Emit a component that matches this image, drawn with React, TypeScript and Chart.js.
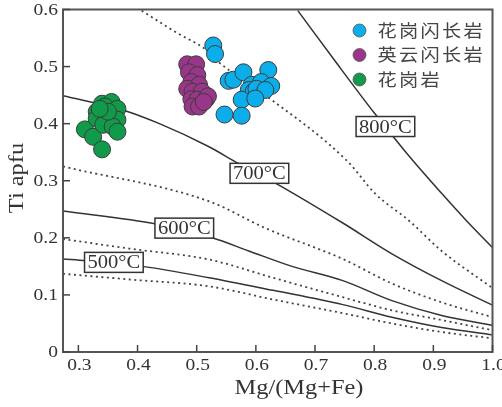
import React, { useEffect, useRef } from "react";
import { Chart, registerables } from "chart.js";

Chart.register(...registerables);

// ---- axis ticks ----
const xTicks = [0.3, 0.4, 0.5, 0.6, 0.7, 0.8, 0.9, 1.0];
const yTicks = [0, 0.1, 0.2, 0.3, 0.4, 0.5, 0.6];
const xTickLabels = ["0.3", "0.4", "0.5", "0.6", "0.7", "0.8", "0.9", "1.0"];
const yTickLabels = ["0", "0.1", "0.2", "0.3", "0.4", "0.5", "0.6"];

// ---- scatter series ----
const seriesNames = ["花岗闪长岩", "英云闪长岩", "花岗岩"];
const seriesColors = ["#0BAEEA", "#9A3689", "#109A4A"];

const granodioriteX = [0.528, 0.531, 0.554, 0.562, 0.579, 0.621, 0.593, 0.609, 0.626, 0.588, 0.596, 0.601, 0.616, 0.576, 0.599, 0.547, 0.576];
const granodioriteY = [0.537, 0.522, 0.475, 0.477, 0.490, 0.494, 0.468, 0.473, 0.466, 0.459, 0.456, 0.461, 0.459, 0.442, 0.444, 0.416, 0.414];

const tonaliteX = [0.484, 0.499, 0.487, 0.501, 0.491, 0.504, 0.484, 0.493, 0.509, 0.491, 0.501, 0.516, 0.493, 0.504, 0.519, 0.512];
const tonaliteY = [0.504, 0.504, 0.490, 0.485, 0.473, 0.468, 0.461, 0.456, 0.456, 0.443, 0.442, 0.443, 0.430, 0.430, 0.448, 0.438];

const graniteX = [0.311, 0.325, 0.340, 0.331, 0.340, 0.356, 0.345, 0.366, 0.331, 0.348, 0.366, 0.342, 0.358, 0.366, 0.350, 0.336];
const graniteY = [0.390, 0.377, 0.355, 0.421, 0.435, 0.438, 0.430, 0.426, 0.409, 0.409, 0.407, 0.398, 0.395, 0.386, 0.421, 0.426];

// ---- isotherms (solid) ----
const iso800X = [0.671, 0.738, 0.800, 0.856, 0.914, 0.956, 1.0];
const iso800Y = [0.598, 0.504, 0.419, 0.347, 0.278, 0.230, 0.183];

const iso700X = [0.274, 0.375, 0.437, 0.520, 0.571, 0.633, 0.747, 0.830, 0.914, 1.0];
const iso700Y = [0.449, 0.424, 0.400, 0.360, 0.330, 0.296, 0.226, 0.172, 0.125, 0.082];

const iso600X = [0.274, 0.432, 0.526, 0.588, 0.661, 0.747, 0.830, 0.914, 1.0];
const iso600Y = [0.247, 0.224, 0.200, 0.177, 0.150, 0.125, 0.090, 0.064, 0.047];

const iso500X = [0.274, 0.313, 0.408, 0.521, 0.629, 0.747, 0.830, 0.914, 1.0];
const iso500Y = [0.163, 0.160, 0.150, 0.130, 0.108, 0.083, 0.061, 0.043, 0.030];

// ---- dotted curves ----
const dot1X = [0.407, 0.465, 0.515, 0.537, 0.616, 0.755, 0.802, 0.859, 0.914, 1.0];
const dot1Y = [0.598, 0.560, 0.530, 0.508, 0.450, 0.334, 0.277, 0.230, 0.177, 0.112];

const dot2X = [0.274, 0.521, 0.616, 0.747, 0.830, 0.914, 1.0];
const dot2Y = [0.325, 0.264, 0.217, 0.163, 0.120, 0.087, 0.061];

const dot3X = [0.274, 0.387, 0.521, 0.629, 0.747, 0.830, 0.914, 1.0];
const dot3Y = [0.198, 0.181, 0.162, 0.130, 0.096, 0.073, 0.056, 0.038];

const dot4X = [0.274, 0.387, 0.521, 0.629, 0.747, 0.830, 0.914, 1.0];
const dot4Y = [0.137, 0.127, 0.115, 0.092, 0.068, 0.050, 0.035, 0.024];

// ---- temperature labels ----
const tempLabels = ["800°C", "700°C", "600°C", "500°C"];
const tempLabelX = [0.819, 0.606, 0.479, 0.360];
const tempLabelY = [0.395, 0.313, 0.217, 0.157];

const xTitle = "Mg/(Mg+Fe)";
const yTitle = "Ti apfu";

const SERIF = "'Liberation Serif', 'Times New Roman', serif";
const CJK = "'Noto Sans CJK SC', sans-serif";
const INK = "#333333";

const zip = (xs: number[], ys: number[]) => xs.map((x, i) => ({ x, y: ys[i] }));

function stretchText(ctx: CanvasRenderingContext2D, text: string, x: number, y: number, sx: number, align: CanvasTextAlign) {
  ctx.save();
  ctx.translate(x, y);
  ctx.scale(sx, 1);
  ctx.textAlign = align;
  ctx.fillText(text, 0, 0);
  ctx.restore();
}

const decorPlugin = {
  id: "decor",
  afterDatasetsDraw(chart: any) {
    const { ctx, scales } = chart;
    const xs = scales.x;
    const ys = scales.y;
    ctx.save();
    ctx.font = `19px ${SERIF}`;
    ctx.textBaseline = "middle";
    const sx = 1.08;
    tempLabels.forEach((t, i) => {
      const cx = xs.getPixelForValue(tempLabelX[i]);
      const cy = ys.getPixelForValue(tempLabelY[i]);
      const w = ctx.measureText(t).width * sx + 6;
      const h = 20;
      ctx.fillStyle = "#ffffff";
      ctx.fillRect(cx - w / 2, cy - h / 2, w, h);
      ctx.strokeStyle = "#333";
      ctx.lineWidth = 1.5;
      ctx.strokeRect(cx - w / 2, cy - h / 2, w, h);
      ctx.fillStyle = INK;
      stretchText(ctx, t, cx, cy + 1, sx, "center");
    });
    ctx.restore();
  },
  afterDraw(chart: any) {
    const { ctx, chartArea, scales } = chart;
    const { left, right, top, bottom } = chartArea;
    const xs = scales.x;
    const ys = scales.y;
    ctx.save();
    // frame
    ctx.strokeStyle = "#555";
    ctx.lineWidth = 2;
    ctx.strokeRect(left, top, right - left, bottom - top);
    // inside tick marks
    ctx.lineWidth = 1.5;
    ctx.strokeStyle = "#444";
    xTicks.forEach((v) => {
      const px = xs.getPixelForValue(v);
      ctx.beginPath();
      ctx.moveTo(px, bottom);
      ctx.lineTo(px, bottom - 7);
      ctx.stroke();
    });
    yTicks.forEach((v) => {
      const py = ys.getPixelForValue(v);
      ctx.beginPath();
      ctx.moveTo(left, py);
      ctx.lineTo(left + 7, py);
      ctx.stroke();
    });
    // tick labels
    ctx.fillStyle = INK;
    ctx.font = `16px ${SERIF}`;
    ctx.textBaseline = "middle";
    xTicks.forEach((v, i) => {
      stretchText(ctx, xTickLabels[i], xs.getPixelForValue(v) + 1, bottom + 14, 1.22, "center");
    });
    yTicks.forEach((v, i) => {
      stretchText(ctx, yTickLabels[i], left - 5, ys.getPixelForValue(v) + 1, 1.22, "right");
    });
    // axis titles
    ctx.font = `20px ${SERIF}`;
    stretchText(ctx, xTitle, 299, 389, 1.22, "center");
    ctx.save();
    ctx.translate(18, 178);
    ctx.rotate(-Math.PI / 2);
    stretchText(ctx, yTitle, 0, 0, 1.22, "center");
    ctx.restore();
    // legend
    const lx = right - 133;
    const ly0 = top + 21;
    const step = 24.5;
    ctx.font = `17px ${CJK}`;
    ctx.textBaseline = "middle";
    (ctx as any).letterSpacing = "2px";
    seriesNames.forEach((name, i) => {
      const cy = ly0 + i * step;
      ctx.beginPath();
      ctx.arc(lx, cy, 6.5, 0, Math.PI * 2);
      ctx.fillStyle = seriesColors[i];
      ctx.fill();
      ctx.lineWidth = 0.8;
      ctx.strokeStyle = "#555";
      ctx.stroke();
      ctx.fillStyle = "#444";
      stretchText(ctx, name, lx + 18, cy, 1.13, "left");
    });
    ctx.restore();
  },
};

export default function App() {
  const ref = useRef<HTMLCanvasElement | null>(null);

  useEffect(() => {
    if (!ref.current) return;
    const pointSet = (i: number, xs: number[], ys: number[]) => ({
      type: "scatter" as const,
      label: seriesNames[i],
      data: zip(xs, ys),
      backgroundColor: seriesColors[i],
      borderColor: "#3c3c3c",
      borderWidth: 1,
      pointRadius: 8.5,
      order: 0,
    });
    const curve = (xs: number[], ys: number[], dashed: boolean) => ({
      type: "line" as const,
      label: "",
      data: zip(xs, ys),
      borderColor: dashed ? "#444" : "#333",
      borderWidth: dashed ? 1.8 : 1.5,
      borderDash: dashed ? [2, 3.5] : [],
      pointRadius: 0,
      showLine: true,
      fill: false,
      cubicInterpolationMode: "monotone" as const,
      order: 1,
    });

    const chart = new Chart(ref.current, {
      type: "scatter",
      data: {
        datasets: [
          pointSet(0, granodioriteX, granodioriteY),
          pointSet(1, tonaliteX, tonaliteY),
          pointSet(2, graniteX, graniteY),
          curve(iso800X, iso800Y, false),
          curve(iso700X, iso700Y, false),
          curve(iso600X, iso600Y, false),
          curve(iso500X, iso500Y, false),
          curve(dot1X, dot1Y, true),
          curve(dot2X, dot2Y, true),
          curve(dot3X, dot3Y, true),
          curve(dot4X, dot4Y, true),
        ] as any,
      },
      options: {
        responsive: false,
        animation: false,
        layout: { padding: { left: 0, top: 7, right: 7, bottom: 0 } },
        plugins: {
          legend: { display: false },
          tooltip: { enabled: false },
        },
        scales: {
          x: {
            type: "linear",
            min: 0.274,
            max: 1.0,
            grid: { display: false, drawTicks: false },
            border: { display: false },
            afterBuildTicks: (s: any) => {
              s.ticks = xTicks.map((v) => ({ value: v }));
            },
            afterFit: (s: any) => {
              s.height = 55;
              s.paddingLeft = 0;
              s.paddingRight = 0;
            },
            ticks: { display: false },
          },
          y: {
            type: "linear",
            min: 0,
            max: 0.6,
            grid: { display: false, drawTicks: false },
            border: { display: false },
            afterBuildTicks: (s: any) => {
              s.ticks = yTicks.map((v) => ({ value: v }));
            },
            afterFit: (s: any) => {
              s.width = 63;
              s.paddingTop = 0;
              s.paddingBottom = 0;
            },
            ticks: { display: false },
          },
        },
      },
      plugins: [decorPlugin],
    });
    return () => chart.destroy();
  }, []);

  return (
    <div style={{ position: "fixed", left: 0, top: 0, width: 502, height: 407, background: "#ffffff" }}>
      <canvas ref={ref} width={502} height={407} style={{ width: 502, height: 407, display: "block" }} />
    </div>
  );
}
